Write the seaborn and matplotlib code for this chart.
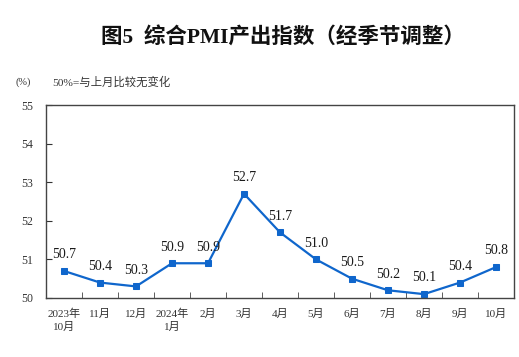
import matplotlib.pyplot as plt
import numpy as np
import pandas as pd
import seaborn as sns

# Data
months = ["2023年\n10月", "11月", "12月", "2024年\n1月", "2月", "3月", "4月",
          "5月", "6月", "7月", "8月", "9月", "10月"]
pmi = [50.7, 50.4, 50.3, 50.9, 50.9, 52.7, 51.7, 51.0, 50.5, 50.2, 50.1, 50.4, 50.8]

df = pd.DataFrame({"month": months, "pmi": pmi})

sns.set_style("ticks")
plt.rcParams["font.family"] = ["Liberation Serif", "Noto Sans CJK SC"]

fig = plt.figure(figsize=(5.19, 3.57), dpi=100)
ax = fig.add_axes([46 / 519, 59 / 357, 468 / 519, 193 / 357])

line_color = "#0f66cc"
sns.lineplot(data=df, x="month", y="pmi", ax=ax, color=line_color, lw=1.6,
             marker="s", markersize=4.5, markeredgecolor=line_color, sort=False)

for i, v in enumerate(pmi):
    ax.annotate(f"{v:.1f}", (i, v), xytext=(0, 7), textcoords="offset points",
                ha="center", va="bottom", fontsize=10, color="#1a1a1a")

ax.set_xlim(-0.5, len(months) - 0.5)
ax.set_ylim(50, 55)
ax.set_yticks(range(50, 56))
ax.set_xticks(range(len(months)))
ax.set_xticklabels(months, fontsize=8, color="#333333", linespacing=1.35)
ax.set_xticks(np.arange(0.5, len(months) - 0.5), minor=True)
ax.tick_params(axis="x", which="major", length=0, pad=8)
ax.tick_params(axis="x", which="minor", direction="in", length=4, color="#444444")
ax.tick_params(axis="y", direction="in", length=4, labelsize=8.5, pad=9, colors="#333333")
ax.set_xlabel("")
ax.set_ylabel("")
for s in ax.spines.values():
    s.set_color("#444444")
    s.set_linewidth(1.0)

fig.text(283 / 519, 1 - 38 / 357, "图5  综合PMI产出指数（经季节调整）", ha="center", va="center",
         fontsize=15.5, fontweight="bold", color="#111111")
fig.text(16 / 519, 1 - 82 / 357, "(%)", ha="left", va="center", fontsize=7.5, color="#333333")
fig.text(52 / 519, 1 - 82 / 357, "50%=与上月比较无变化", ha="left", va="center",
         fontsize=8.2, color="#333333")

fig.savefig("out.png", dpi=100)
